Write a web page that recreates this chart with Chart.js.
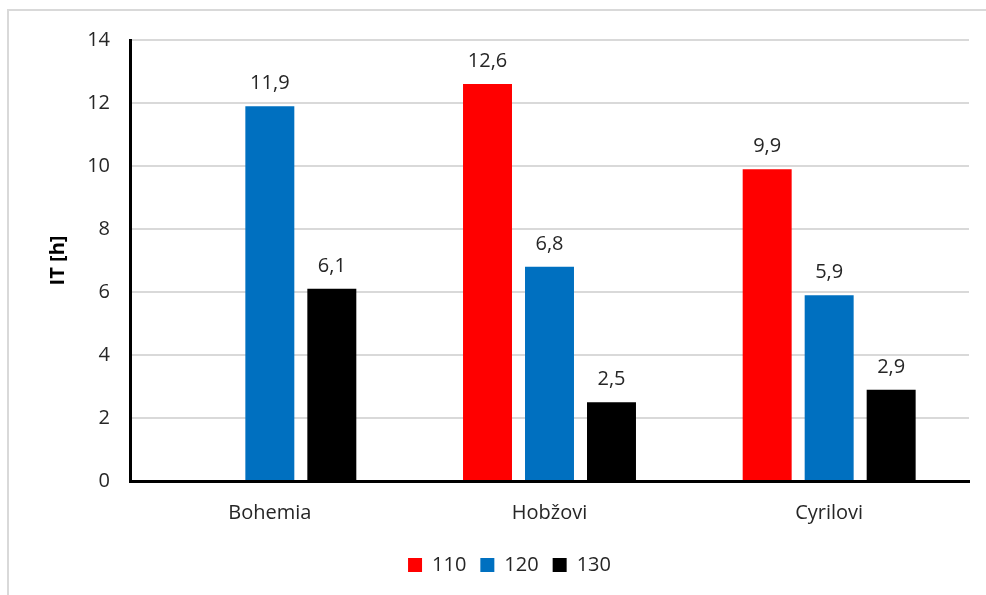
<!DOCTYPE html>
<html><head><meta charset="utf-8">
<script src="https://cdn.jsdelivr.net/npm/chart.js@4/dist/chart.umd.min.js"></script>
<style>html,body{margin:0;padding:0;background:#fff;}#wrap{width:986px;height:595px;position:relative;}</style>
</head><body><div id="wrap"><canvas id="c" width="986" height="595"></canvas></div>
<script>
const categories = ["Bohemia", "Hobžovi", "Cyrilovi"];
const series110 = [null, 12.6, 9.9];
const series120 = [11.9, 6.8, 5.9];
const series130 = [6.1, 2.5, 2.9];
const seriesNames = ["110", "120", "130"];
const yTicks = [0, 2, 4, 6, 8, 10, 12, 14];

const FONT = "'Open Sans', Lato, sans-serif";
const TXT = "#262626";

const frame = {
  id: 'frame',
  beforeDraw(chart) {
    const ctx = chart.ctx;
    ctx.save();
    ctx.fillStyle = '#fff';
    ctx.fillRect(0, 0, chart.width, chart.height);
    ctx.strokeStyle = '#d9d9d9';
    ctx.lineWidth = 2;
    ctx.strokeRect(8, 10, 1000, 700);
    ctx.restore();
  }
};

const legendShift = {
  id: 'legendShift',
  afterLayout(chart) {
    const lg = chart.legend;
    if (lg) { lg.left += 25; lg.right += 25; }
  }
};

const valueLabels = {
  id: 'valueLabels',
  afterDatasetsDraw(chart) {
    const ctx = chart.ctx;
    ctx.save();
    ctx.font = "20px " + FONT;
    ctx.fillStyle = TXT;
    ctx.textAlign = 'center';
    ctx.textBaseline = 'alphabetic';
    chart.data.datasets.forEach((ds, i) => {
      const meta = chart.getDatasetMeta(i);
      meta.data.forEach((bar, j) => {
        const v = ds.data[j];
        if (v === null || v === undefined) return;
        ctx.fillText(v.toFixed(1).replace('.', ','), bar.x, bar.y - 17);
      });
    });
    ctx.restore();
  }
};

new Chart(document.getElementById('c'), {
  type: 'bar',
  data: {
    labels: categories,
    datasets: [
      { label: seriesNames[0], data: series110, backgroundColor: '#FF0000' },
      { label: seriesNames[1], data: series120, backgroundColor: '#0070C0' },
      { label: seriesNames[2], data: series130, backgroundColor: '#000000' }
    ]
  },
  options: {
    responsive: false,
    animation: false,
    datasets: { bar: { categoryPercentage: 0.665, barPercentage: 0.79 } },
    layout: { padding: { left: 0, top: 40, right: 17, bottom: 10 } },
    plugins: {
      legend: {
        position: 'bottom',
        labels: {
          boxWidth: 14, boxHeight: 14, padding: 14,
          color: TXT, font: { family: FONT, size: 20 }
        }
      },
      tooltip: { enabled: false }
    },
    scales: {
      x: {
        grid: { display: false, drawTicks: false },
        border: { display: true, color: '#000', width: 3 },
        ticks: { color: TXT, font: { family: FONT, size: 20 }, padding: 20 },
        afterFit(s) { s.height = 60; }
      },
      y: {
        min: 0, max: 14,
        afterBuildTicks(s) { s.ticks = yTicks.map(v => ({ value: v })); },
        grid: { color: '#d9d9d9', lineWidth: 2, drawTicks: false },
        border: { display: true, color: '#000', width: 3 },
        ticks: { color: TXT, font: { family: FONT, size: 20 }, padding: 20 },
        title: { display: true, text: 'IT [h]', color: '#000', font: { family: FONT, size: 20, weight: 'bold' }, padding: { top: 46, bottom: 0 } },
        afterFit(s) { s.width = 130; }
      }
    }
  },
  plugins: [frame, legendShift, valueLabels]
});
</script></body></html>
